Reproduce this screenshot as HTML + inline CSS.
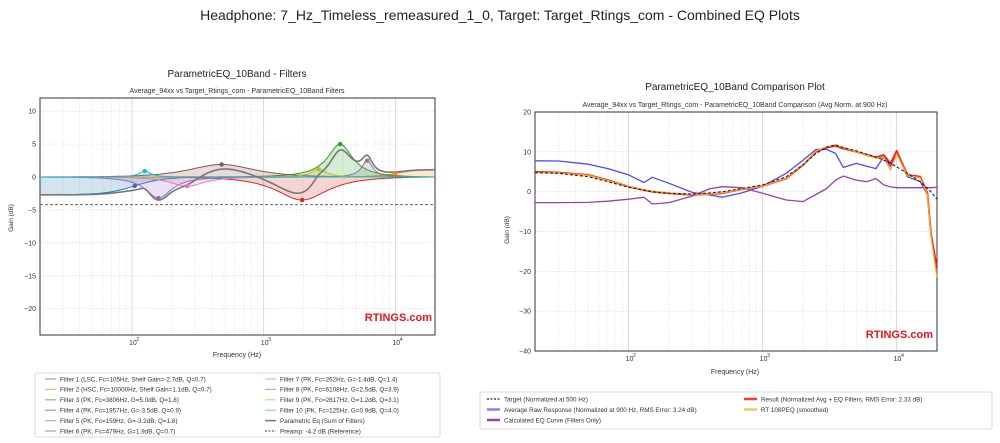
<!DOCTYPE html>
<html><head><meta charset="utf-8"><style>
html,body{margin:0;padding:0;background:#fff;}
svg{display:block;font-family:"Liberation Sans",sans-serif;}
</style></head><body>
<svg id="root" width="1000" height="443" viewBox="0 0 1000 443">
<text x="500" y="20" text-anchor="middle" font-size="14" fill="#222">Headphone: 7_Hz_Timeless_remeasured_1_0, Target: Target_Rtings_com - Combined EQ Plots</text>
<g id="left"></g>
<g id="right"></g>
</svg>
<script>
// ---------- Filter data ----------
const filterTypes = ['LSC','HSC','PK','PK','PK','PK','PK','PK','PK','PK'];
const filterFc = [105,10000,3806,1957,159,479,262,6108,2617,125];
const filterGain = [-2.7,1.1,5.0,-3.5,-3.2,1.9,-1.4,2.5,1.2,0.9];
const filterQ = [0.7,0.7,1.8,0.9,1.8,0.7,1.4,3.9,3.1,4.0];
const filterColors = ['#1f77b4','#ff7f0e','#2ca02c','#d62728','#9467bd','#8c564b','#e377c2','#7f7f7f','#bcbd22','#17becf'];
const preamp = -4.2;
const leftYTicks = [10,5,0,-5,-10,-15,-20];

// ---------- Comparison data ----------
const freqs = [20,30,50,70,100,130,150,200,300,400,500,700,1000,1500,2000,2500,3000,3500,4000,5000,6000,7000,8000,9000,10000,12000,15000,17000,18000,20000];
const targetVals = [4.75,4.6,3.75,2.5,1.1,0.4,0,-0.4,-0.6,-0.3,0,0.8,1.7,3.75,6.7,9.6,11.1,11.7,11.1,10.25,9.4,8.75,7.9,7.1,6.25,4.6,2.5,0.8,0,-1.9];
const rawVals = [7.75,7.7,6.9,5.8,4.2,2.3,3.6,2.1,-0.2,-0.8,-1.4,-0.3,1.4,4.6,7.9,10.6,10.6,9.6,6.1,7.1,6.4,5.8,8.75,6.4,10,3.75,2.5,-0.8,-10.4,-20];
const resultVals = [5,4.8,4.2,2.9,1.25,0.4,0,-0.4,-0.8,-0.6,-0.4,0.6,1.4,3.3,6.7,10,11.1,11.5,10.8,10,9.2,8.6,9.2,7.1,10.25,4.2,3.75,-0.4,-10.4,-19.2];
const rtVals = [4.8,4.7,4.1,2.8,1.2,0.5,0.1,-0.3,-0.7,-0.6,-0.3,0.6,1.4,3.4,6.8,10.2,11.3,11.8,11,10,9.1,8.4,8.7,5.5,9.5,4,3.5,-0.8,-11,-21.5];
const eqVals = [-2.75,-2.75,-2.7,-2.4,-1.9,-1.4,-3.1,-2.75,-1.1,0.7,1.25,1,-0.4,-2.1,-2.5,-0.7,0.8,2.9,3.9,2.9,2.5,3.3,1.7,1.2,1,1,1,1,1,1.1];
const rightYTicks = [20,10,0,-10,-20,-30,-40];
const xTickExp = [2,3,4];

const NS='http://www.w3.org/2000/svg';
function mk(tag,attrs,parent){const e=document.createElementNS(NS,tag);for(const k in attrs)e.setAttribute(k,attrs[k]);parent.appendChild(e);return e;}

function makeAxes(g,x0,x1,y0,y1,ymin,ymax){
  const lx=f=>x0+(Math.log10(f)-Math.log10(20))/(Math.log10(20000)-Math.log10(20))*(x1-x0);
  const ly=v=>y0+(ymax-v)/(ymax-ymin)*(y1-y0);
  return {lx,ly};
}
function drawGrid(g,ax,x0,x1,y0,y1,yticks){
  for(let d=10;d<=10000;d*=10){for(let m=1;m<10;m++){const f=d*m;if(f<20||f>20000)continue;
    const x=ax.lx(f);const l=mk('line',{x1:x,x2:x,y1:y0,y2:y1,stroke:m===1?'#ccc':'#e2e2e2','stroke-width':0.7,'stroke-dasharray':m===1?'':'1.5,1.5'},g);
    }}
  yticks.forEach(v=>{const y=ax.ly(v);
    const l=mk('line',{x1:x0,x2:x1,y1:y,y2:y,stroke:'#ddd','stroke-width':0.7,'stroke-dasharray':'2,1.5'},g);
    
    const t=mk('text',{x:x0-4,y:y+2.5,'text-anchor':'end','font-size':7,fill:'#333'},g);t.textContent=v<0?'\u2212'+(-v):v;
    });
  xTickExp.forEach(e=>{const x=ax.lx(Math.pow(10,e));
    const t=mk('text',{x:x-3,y:y1+10,'font-size':7,fill:'#333'},g);t.textContent='10';
    
    const s=mk('text',{x:x+4.5,y:y1+6,'font-size':5,fill:'#333'},g);s.textContent=e;
    });
  const b=mk('rect',{x:x0,y:y0,width:x1-x0,height:y1-y0,fill:'none',stroke:'#333','stroke-width':1},g);
  
}
function rtings(g,x,y,size){
  const t=mk('text',{x:x,y:y,'text-anchor':'end','font-size':size,'font-weight':'bold',fill:'#e8141c','font-family':'Liberation Sans Narrow,Liberation Sans,sans-serif'},g);
  t.textContent='RTINGS.com';
}
// biquad response
function biquadDb(type,fc,gain,q,f){
  const fs=48000,A=Math.pow(10,gain/40),w0=2*Math.PI*fc/fs,al=Math.sin(w0)/(2*q),c=Math.cos(w0);
  let b0,b1,b2,a0,a1,a2;
  if(type==='PK'){b0=1+al*A;b1=-2*c;b2=1-al*A;a0=1+al/A;a1=-2*c;a2=1-al/A;}
  else{const s=2*Math.sqrt(A)*al;
    if(type==='LSC'){b0=A*((A+1)-(A-1)*c+s);b1=2*A*((A-1)-(A+1)*c);b2=A*((A+1)-(A-1)*c-s);a0=(A+1)+(A-1)*c+s;a1=-2*((A-1)+(A+1)*c);a2=(A+1)+(A-1)*c-s;}
    else{b0=A*((A+1)+(A-1)*c+s);b1=-2*A*((A-1)+(A+1)*c);b2=A*((A+1)+(A-1)*c-s);a0=(A+1)-(A-1)*c+s;a1=2*((A-1)-(A+1)*c);a2=(A+1)-(A-1)*c-s;}}
  const w=2*Math.PI*f/fs,cw=Math.cos(w),c2=Math.cos(2*w),sw=Math.sin(w),s2=Math.sin(2*w);
  const nr=b0+b1*cw+b2*c2,ni=-(b1*sw+b2*s2),dr=a0+a1*cw+a2*c2,di=-(a1*sw+a2*s2);
  return 10*Math.log10((nr*nr+ni*ni)/(dr*dr+di*di));
}

// ---------- Left chart ----------
(function(){
  const g=document.getElementById('left');
  const x0=40,x1=435,y0=98,y1=335;
  const ax=makeAxes(g,x0,x1,y0,y1,-24,12);
  let t=mk('text',{x:237,y:77,'text-anchor':'middle','font-size':10,fill:'#222'},g);t.textContent='ParametricEQ_10Band - Filters';
  
  t=mk('text',{x:237,y:93,'text-anchor':'middle','font-size':7,fill:'#333'},g);t.textContent='Average_94xx vs Target_Rtings_com - ParametricEQ_10Band Filters';
  
  drawGrid(g,ax,x0,x1,y0,y1,leftYTicks);
  t=mk('text',{x:0,y:0,'text-anchor':'middle','font-size':6.5,fill:'#333',transform:'translate(13,218) rotate(-90)'},g);t.textContent='Gain (dB)';
  
  t=mk('text',{x:237,y:357,'text-anchor':'middle','font-size':7,fill:'#333'},g);t.textContent='Frequency (Hz)';
  
  const N=240,fs=[];for(let i=0;i<=N;i++)fs.push(20*Math.pow(1000,i/N));
  const sum=fs.map(()=>0);
  filterTypes.forEach((ty,k)=>{
    const vals=fs.map(f=>biquadDb(ty,filterFc[k],filterGain[k],filterQ[k],f));
    vals.forEach((v,i)=>sum[i]+=v);
    let d='M'+ax.lx(fs[0])+','+ax.ly(0);
    fs.forEach((f,i)=>d+='L'+ax.lx(f).toFixed(1)+','+ax.ly(vals[i]).toFixed(1));
    d+='L'+ax.lx(fs[N])+','+ax.ly(0)+'Z';
    const a=mk('path',{d:d,fill:filterColors[k],'fill-opacity':0.2,stroke:'none'},g);
    
    let d2='';fs.forEach((f,i)=>d2+=(i?'L':'M')+ax.lx(f).toFixed(1)+','+ax.ly(vals[i]).toFixed(1));
    const l=mk('path',{d:d2,fill:'none',stroke:filterColors[k],'stroke-width':1},g);
    
  });
  let d='';fs.forEach((f,i)=>d+=(i?'L':'M')+ax.lx(f).toFixed(1)+','+ax.ly(sum[i]).toFixed(1));
  const s=mk('path',{d:d,fill:'none',stroke:'#777','stroke-width':1.6},g);
  
  const p=mk('line',{x1:x0,x2:x1,y1:ax.ly(preamp),y2:ax.ly(preamp),stroke:'#666','stroke-width':1,'stroke-dasharray':'3,2'},g);
  
  filterTypes.forEach((ty,k)=>{
    const gv=ty==='PK'?filterGain[k]:filterGain[k]/2;
    const c=mk('circle',{cx:ax.lx(filterFc[k]),cy:ax.ly(gv),r:2.2,fill:filterColors[k]},g);
    
  });
  rtings(g,432,321,11);
  // legend
  const lg=mk('g',{},g);
  mk('rect',{x:35,y:373,width:405,height:64,fill:'#fff',stroke:'#ccc','stroke-width':0.8,rx:2},lg);
  const labels=filterTypes.map((ty,k)=>ty==='PK'?`Filter ${k+1} (PK, Fc=${filterFc[k]}Hz, G=${filterGain[k].toFixed(1)}dB, Q=${filterQ[k].toFixed(1)})`:`Filter ${k+1} (${ty}, Fc=${filterFc[k]}Hz, Shelf Gain=${filterGain[k].toFixed(1)}dB, Q=${filterQ[k].toFixed(1)})`);
  labels.push('Parametric Eq (Sum of Filters)');labels.push('Preamp: -4.2 dB (Reference)');
  const cols=filterColors.slice();cols.push('#777');cols.push('#666');
  labels.forEach((lab,i)=>{
    const col=i<6?0:1,row=i<6?i:i-6;
    const lx=col?265:45,y=379+row*10.4;
    const e=mk('g',{},lg);
    mk('line',{x1:lx,x2:lx+11,y1:y,y2:y,stroke:cols[i],'stroke-width':i===10?1.5:1.2,'stroke-opacity':i<10?0.6:1,'stroke-dasharray':i===11?'2,1.5':''},e);
    const t=mk('text',{x:lx+15,y:y+2.3,'font-size':6.3,fill:'#333'},e);t.textContent=lab;
  });
})();

// ---------- Right chart ----------
(function(){
  const g=document.getElementById('right');
  const x0=535,x1=937,y0=112,y1=351;
  const ax=makeAxes(g,x0,x1,y0,y1,-40,20);
  let t=mk('text',{x:735,y:90,'text-anchor':'middle','font-size':10,fill:'#222'},g);t.textContent='ParametricEQ_10Band Comparison Plot';
  
  t=mk('text',{x:735,y:107,'text-anchor':'middle','font-size':7,fill:'#333'},g);t.textContent='Average_94xx vs Target_Rtings_com - ParametricEQ_10Band Comparison (Avg Norm. at 900 Hz)';
  
  drawGrid(g,ax,x0,x1,y0,y1,rightYTicks);
  t=mk('text',{x:0,y:0,'text-anchor':'middle','font-size':6.5,fill:'#333',transform:'translate(509,230) rotate(-90)'},g);t.textContent='Gain (dB)';
  
  t=mk('text',{x:735,y:374,'text-anchor':'middle','font-size':7,fill:'#333'},g);t.textContent='Frequency (Hz)';
  
  function line(vals,color,w,dash,name){
    let d='';freqs.forEach((f,i)=>d+=(i?'L':'M')+ax.lx(f).toFixed(1)+','+ax.ly(vals[i]).toFixed(1));
    const p=mk('path',{d:d,fill:'none',stroke:color,'stroke-width':w,'stroke-dasharray':dash,'stroke-linejoin':'round'},g);
    
  }
  line(rawVals,'#4a4aff',1.3,'','raw-response-line');
  line(eqVals,'#9b3fb0',1.3,'','eq-curve-line');
  line(resultVals,'#ff1a1a',1.8,'','result-line');
  line(rtVals,'#ff9f1a',1.3,'','rt-108peq-line');
  line(targetVals,'#222',1.1,'3,2','target-line');
  rtings(g,933,338,11);
  const lg=mk('g',{},g);
  mk('rect',{x:480,y:392,width:512,height:37,fill:'#fff',stroke:'#ccc','stroke-width':0.8,rx:2},lg);
  const labs=['Target (Normalized at 500 Hz)','Average Raw Response (Normalized at 900 Hz, RMS Error: 3.24 dB)','Calculated EQ Curve (Filters Only)','Result (Normalized Avg + EQ Filters, RMS Error: 2.33 dB)','RT 108PEQ (smoothed)'];
  const cs=['#222','#8080ff','#9b3fb0','#ff3333','#ffc060'];
  labs.forEach((lab,i)=>{
    const col=i<3?0:1,row=i<3?i:i-3;const lx=col?744:487,y=399+row*10.5;
    const e=mk('g',{},lg);
    mk('line',{x1:lx,x2:lx+13,y1:y,y2:y,stroke:cs[i],'stroke-width':i===0?1.3:2.5,'stroke-dasharray':i===0?'2,1.5':''},e);
    const t=mk('text',{x:lx+17,y:y+2.3,'font-size':6.3,fill:'#333'},e);t.textContent=lab;
  });
})();
</script>
</body></html>
